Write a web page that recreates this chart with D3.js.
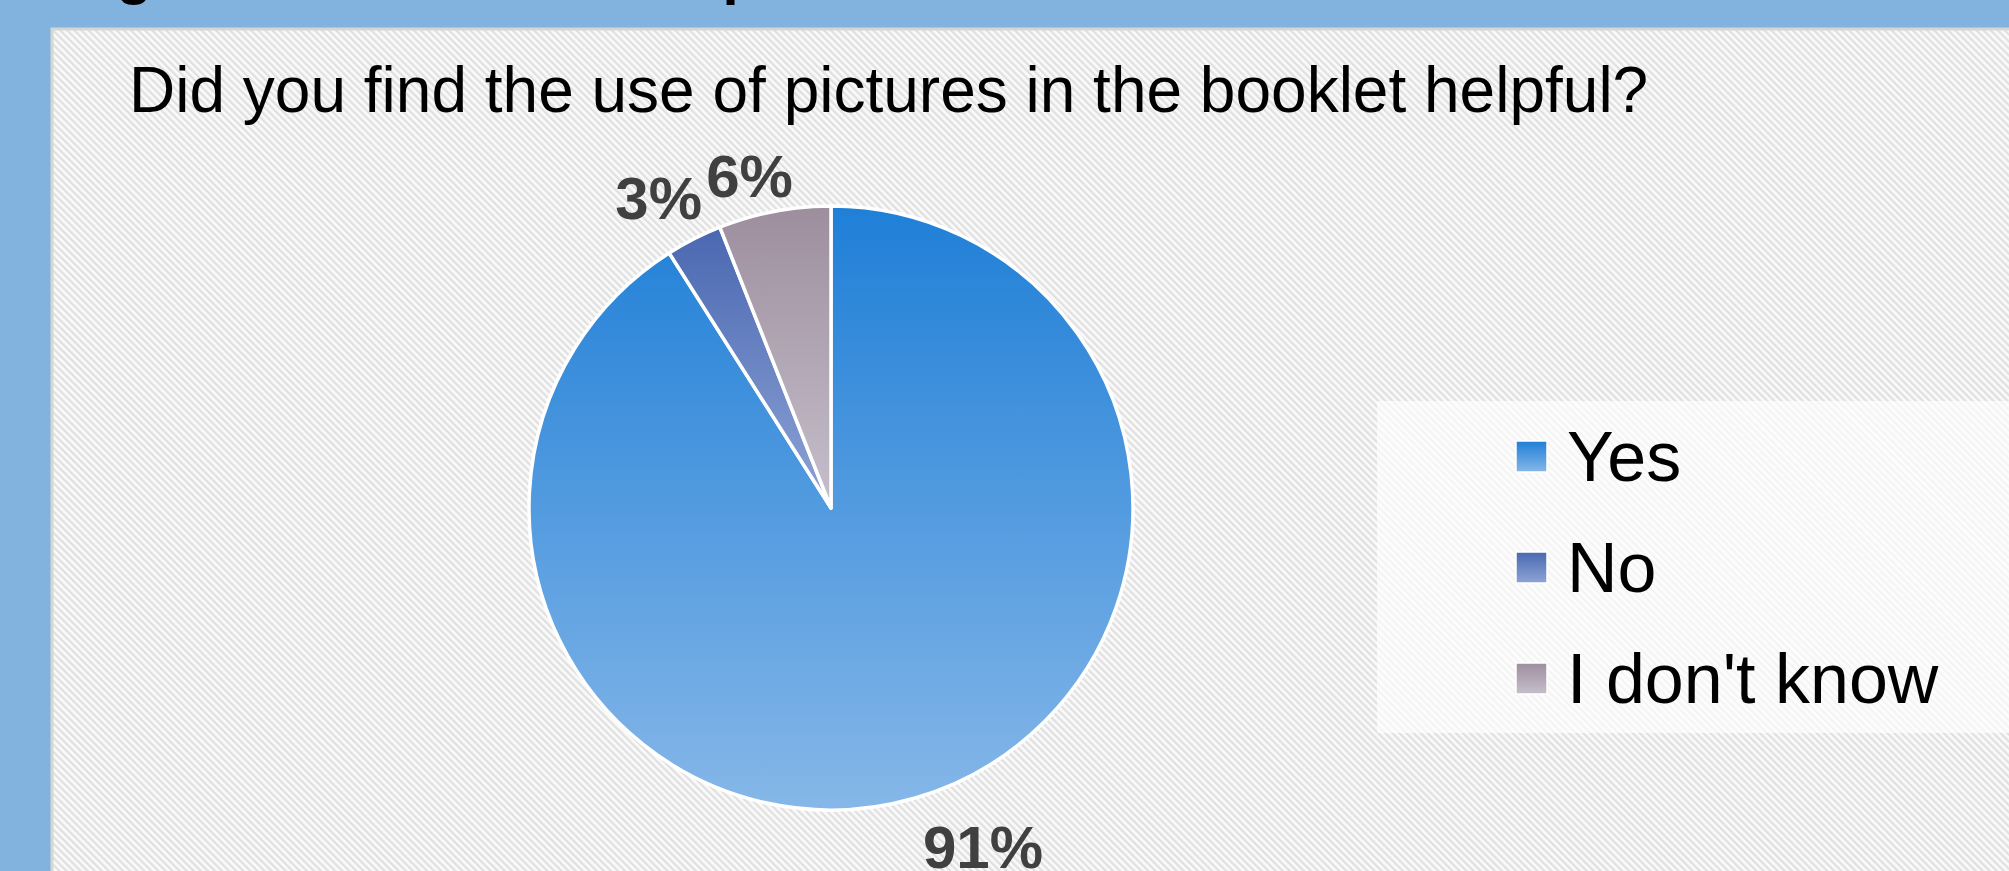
<html>
<head>
<title>Pictures pie</title>
<script type="text/javascript" src="https://cdn.jsdelivr.net/npm/d3@7/dist/d3.min.js"></script>
<style type="text/css">
body { margin:0px; background:#82b2de; }
text { font-family: "Liberation Sans", Arial, sans-serif; }
</style>
</head>
<body>
<script>

  var categories = ["Yes", "No", "I don't know"],
      values = [91, 3, 6],
      gradTop = ["#1f7fd7", "#4a68b1", "#9d8e9e"],
      gradBottom = ["#86b7e8", "#8ea4d6", "#c6bfcb"],
      question = "Did you find the use of pictures in the booklet helpful?",
      pageTitle = "Figure 9: Usefulness of pictures";

  var W = 2009, H = 871,
      cx = 831, cy = 508, r = 302;

  var svg = d3.select("body").append("svg").attr("width",W).attr("height",H);
  var defs = svg.append("defs");

  // diagonal stripes of the chart area
  var pat = defs.append("pattern").attr("id","stripes").attr("patternUnits","userSpaceOnUse")
    .attr("width",5).attr("height",5).attr("patternTransform","rotate(-45)");
  pat.append("rect").attr("width",5).attr("height",5).attr("fill","#fafafa");
  pat.append("rect").attr("width",2.3).attr("height",5).attr("fill","#e0e0e0");

  // one vertical gradient per slice
  categories.forEach(function(c,i){
    var g = defs.append("linearGradient").attr("id","grad"+i).attr("x1",0).attr("y1",0).attr("x2",0).attr("y2",1);
    g.append("stop").attr("offset","0%").attr("stop-color",gradTop[i]);
    g.append("stop").attr("offset","100%").attr("stop-color",gradBottom[i]);
  });

  svg.append("rect").attr("width",W).attr("height",H).attr("fill","#82b2de");

  // page heading, mostly cut off at the top
  svg.append("text").text(pageTitle).attr("x",65).attr("y",-7).attr("font-size",58)
    .attr("font-weight","bold").attr("fill","#000");

  svg.append("rect").attr("x",52).attr("y",29).attr("width",W).attr("height",H)
    .attr("fill","url(#stripes)").attr("stroke","#d6d6d6").attr("stroke-width",3);

  svg.append("text").text(question).attr("x",129).attr("y",112).attr("font-size",64).attr("fill","#000");

  var pie = d3.pie().sort(null).value(function(d){ return d; });
  var arcs = pie(values);
  var arc = d3.arc().innerRadius(0).outerRadius(r);
  var labelArc = d3.arc().innerRadius(r*1.14).outerRadius(r*1.14);

  var plot = svg.append("g").attr("transform","translate("+cx+","+cy+")");

  plot.selectAll("path").data(arcs).enter().append("path")
    .attr("d",arc)
    .attr("fill",function(d,i){ return "url(#grad"+i+")"; })
    .attr("stroke","#fff").attr("stroke-width",3.5).attr("stroke-linejoin","round");

  // excel "best fit" shifts the labels a little off the centroid
  var nudge = [[56,8],[-16,-3],[-17,6]];

  plot.selectAll("text.lbl").data(arcs).enter().append("text").attr("class","lbl")
    .text(function(d){ return d.data + "%"; })
    .attr("x",function(d,i){ return labelArc.centroid(d)[0] + nudge[i][0]; })
    .attr("y",function(d,i){ return labelArc.centroid(d)[1] + nudge[i][1]; })
    .attr("dy","0.35em").attr("text-anchor","middle")
    .attr("font-size",60).attr("font-weight","bold").attr("fill","#404040");

  // legend
  svg.append("rect").attr("x",1377).attr("y",401).attr("width",W-1377).attr("height",332)
    .attr("fill","#fff").attr("fill-opacity",0.65);

  var leg = svg.selectAll("g.leg").data(categories).enter().append("g").attr("class","leg")
    .attr("transform",function(d,i){ return "translate(1516,"+(481 + i*111)+")"; });

  leg.append("rect").attr("x",0).attr("y",-40).attr("width",31).attr("height",31)
    .attr("fill",function(d,i){ return "url(#grad"+i+")"; })
    .attr("stroke","#fff").attr("stroke-width",1.5);

  leg.append("text").text(function(d){ return d; }).attr("x",51).attr("y",0)
    .attr("font-size",70).attr("fill","#000");

</script>
</body>
</html>
